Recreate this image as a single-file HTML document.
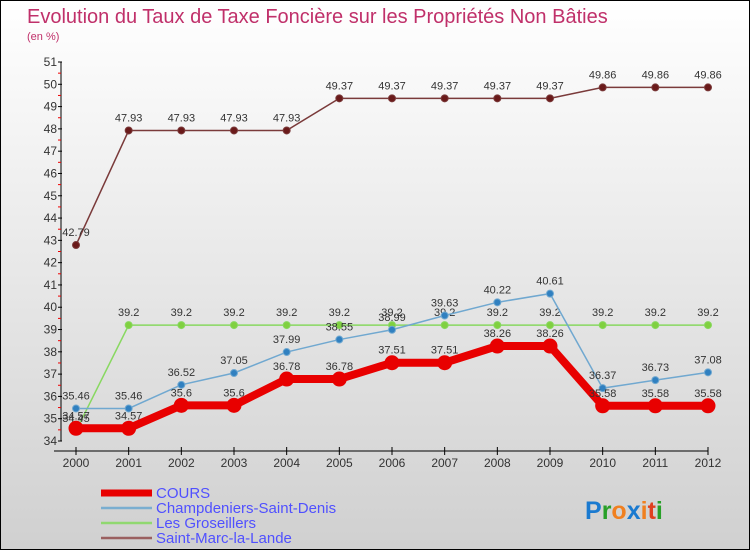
<!DOCTYPE html>
<html><head><meta charset="utf-8"><style>
body{margin:0;width:750px;height:550px;overflow:hidden;font-family:"Liberation Sans",sans-serif}
#wrap{position:relative;width:748px;height:548px;border:1px solid #000;background:linear-gradient(#fff,#d0d0d0)}
svg{position:absolute;left:0;top:0}
</style></head><body>
<div id="wrap">
<svg id="chart" width="750" height="550">
<text x="26" y="22" font-size="20" fill="#c0306a">Evolution du Taux de Taxe Foncière sur les Propriétés Non Bâties</text>
<text x="26" y="39" font-size="11" fill="#c0306a">(en %)</text>
</svg>
</div>
<script>
const years=[2000,2001,2002,2003,2004,2005,2006,2007,2008,2009,2010,2011,2012];
const cours=[34.57,34.57,35.6,35.6,36.78,36.78,37.51,37.51,38.26,38.26,35.58,35.58,35.58];
const champ=[35.46,35.46,36.52,37.05,37.99,38.55,38.99,39.63,40.22,40.61,36.37,36.73,37.08];
const gros=[34.45,39.2,39.2,39.2,39.2,39.2,39.2,39.2,39.2,39.2,39.2,39.2,39.2];
const stmarc=[42.79,47.93,47.93,47.93,47.93,49.37,49.37,49.37,49.37,49.37,49.86,49.86,49.86];
const yTicks=[34,35,36,37,38,39,40,41,42,43,44,45,46,47,48,49,50,51];
const NS="http://www.w3.org/2000/svg";
const svg=document.getElementById('chart');
const X=i=>75+i*(707-75)/(years.length-1);
const Y=v=>440-(v-34)*(440-61)/17;
function el(t,a){const e=document.createElementNS(NS,t);for(const k in a)e.setAttribute(k,a[k]);svg.appendChild(e);return e;}
let e=el('line',{x1:60,y1:61,x2:60,y2:440,stroke:'#000'});

e=el('line',{x1:53,y1:450,x2:707,y2:450,stroke:'#000'});

yTicks.forEach(v=>{
 let t=el('line',{x1:57,y1:Y(v),x2:61,y2:Y(v),stroke:'#000'});
 
 if(v<51){let m=el('line',{x1:57,y1:Y(v+0.5),x2:60,y2:Y(v+0.5),stroke:'#e00'});
 }
 let l=el('text',{x:56,y:Y(v)+4,'font-size':12,'text-anchor':'end',fill:'#333'});l.textContent=v;
 
});
years.forEach((y,i)=>{
 let t=el('line',{x1:X(i),y1:446,x2:X(i),y2:454,stroke:'#000'});
 
 let l=el('text',{x:X(i),y:466,'font-size':12,'text-anchor':'middle',fill:'#333'});l.textContent=y;
 
});
function series(vals,color,w,r,name,dot){
 let p=el('polyline',{points:vals.map((v,i)=>X(i)+','+Y(v)).join(' '),fill:'none',stroke:color,'stroke-width':w});
 
 vals.forEach((v,i)=>{
  let c=el('circle',{cx:X(i),cy:Y(v),r:r,fill:dot,stroke:color});
  
  let l=el('text',{x:X(i),y:Y(v)-9,'font-size':11,'text-anchor':'middle',fill:'#333'});l.textContent=v;
  
 });
}
series(stmarc,'#7a3a3a',1.5,3.5,'saint-marc-la-lande','#6a1a1a');
series(gros,'#88d860',1.5,3.5,'les-groseillers','#80d040');
series(champ,'#70a8d0',1.5,3.5,'champdeniers-saint-denis','#3080c0');
series(cours,'#e80000',8,7,'cours','#e80000');
const leg=[['COURS','#e80000',7],['Champdeniers-Saint-Denis','#7aaed0',2.5],['Les Groseillers','#90d870',2.5],['Saint-Marc-la-Lande','#9a6060',2.5]];
leg.forEach((d,i)=>{
 const y=492+i*15;
 let s=el('line',{x1:100,y1:y,x2:151,y2:y,stroke:d[1],'stroke-width':d[2]});
 
 let t=el('text',{x:155,y:y+5,'font-size':15,fill:'#5050ff'});t.textContent=d[0];
 
});
let logo=el('text',{x:584,y:518,'font-size':25,'font-weight':'bold',fill:'#1a7ad0'});

logo.innerHTML='<tspan fill="#1a7ad0">P</tspan><tspan fill="#28a028">r</tspan><tspan fill="#f08020">o</tspan><tspan fill="#1a7ad0">x</tspan><tspan fill="#f08020">i</tspan><tspan fill="#e04020">t</tspan><tspan fill="#28a028">i</tspan>';
</script>
</body></html>
